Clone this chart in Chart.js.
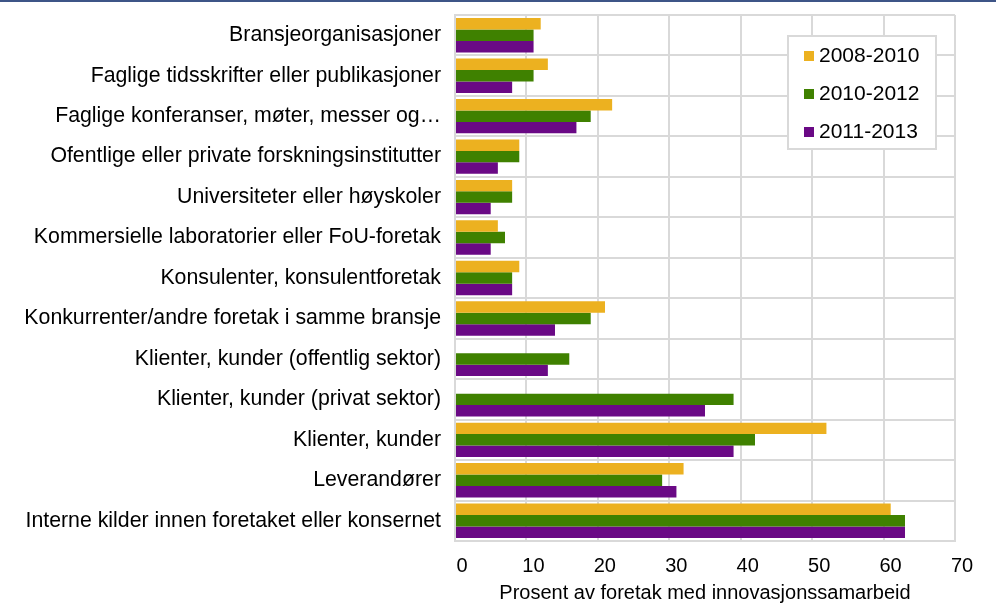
<!DOCTYPE html>
<html>
<head>
<meta charset="utf-8">
<script src="https://cdn.jsdelivr.net/npm/chart.js@4"></script>
<style>
  body { margin: 0; background: #fff; }
  #wrap { width: 996px; height: 606px; }
</style>
</head>
<body>
<div id="wrap"><canvas id="chart" width="996" height="606"></canvas></div>
<script>
const categories = [
  'Bransjeorganisasjoner',
  'Faglige tidsskrifter eller publikasjoner',
  'Faglige konferanser, møter, messer og…',
  'Ofentlige eller private forskningsinstitutter',
  'Universiteter eller høyskoler',
  'Kommersielle laboratorier eller FoU-foretak',
  'Konsulenter, konsulentforetak',
  'Konkurrenter/andre foretak i samme bransje',
  'Klienter, kunder (offentlig sektor)',
  'Klienter, kunder (privat sektor)',
  'Klienter, kunder',
  'Leverandører',
  'Interne kilder innen foretaket eller konsernet'
];
const seriesNames = ['2008-2010', '2010-2012', '2011-2013'];
const values2008 = [12, 13, 22, 9, 8, 6, 9, 21, null, null, 52, 32, 61];
const values2010 = [11, 11, 19, 9, 8, 7, 8, 19, 16, 39, 42, 29, 63];
const values2011 = [11, 8, 17, 6, 5, 5, 8, 14, 13, 35, 39, 31, 63];
const xTicks = [0, 10, 20, 30, 40, 50, 60, 70];

const colors = ['#ecb120', '#3f8100', '#6a0985'];
const font = 'Liberation Sans, Arial, sans-serif';

// thin dark line along the top edge
const topLine = {
  id: 'topLine',
  beforeDraw(chart) {
    const ctx = chart.ctx;
    ctx.save();
    ctx.fillStyle = '#3e5587';
    ctx.fillRect(0, 0, chart.width, 2);
    ctx.restore();
  }
};

// boxed legend inside the plot area
const boxLegend = {
  id: 'boxLegend',
  afterDraw(chart) {
    const ctx = chart.ctx;
    ctx.save();
    ctx.fillStyle = '#fff';
    ctx.fillRect(788, 36, 148, 113);
    ctx.strokeStyle = '#d9d9d9';
    ctx.lineWidth = 2;
    ctx.strokeRect(788, 36, 148, 113);
    ctx.font = '21px ' + font;
    ctx.textBaseline = 'middle';
    chart.data.datasets.forEach((ds, i) => {
      const y = 56 + i * 38;
      ctx.fillStyle = ds.backgroundColor;
      ctx.fillRect(804, y - 5, 10, 10);
      ctx.fillStyle = '#000';
      ctx.fillText(ds.label, 819, y);
    });
    ctx.restore();
  }
};

new Chart(document.getElementById('chart'), {
  type: 'bar',
  data: {
    labels: categories,
    datasets: [values2008, values2010, values2011].map((v, i) => ({
      label: seriesNames[i],
      data: v,
      backgroundColor: colors[i],
      borderColor: colors[i],
      borderWidth: 0,
      barPercentage: 1,
      categoryPercentage: 0.85
    }))
  },
  options: {
    indexAxis: 'y',
    responsive: false,
    animation: false,
    layout: { padding: { top: 15, right: 41, bottom: 0, left: 0 } },
    plugins: {
      legend: { display: false },
      tooltip: { enabled: false }
    },
    scales: {
      x: {
        min: 0,
        max: 70,
        afterBuildTicks(scale) {
          scale.ticks = xTicks.map(v => ({ value: v }));
        },
        afterFit(scale) { scale.height = 65; },
        grid: { color: '#d9d9d9', lineWidth: 2, drawTicks: false },
        border: { color: '#d9d9d9', width: 2 },
        ticks: {
          color: '#000',
          padding: 13,
          labelOffset: 7,
          maxRotation: 0,
          font: { family: font, size: 20 }
        },
        title: {
          display: true,
          text: 'Prosent av foretak med innovasjonssamarbeid',
          color: '#000',
          padding: { top: 3, bottom: 1 },
          font: { family: font, size: 20 }
        }
      },
      y: {
        afterFit(scale) {
          scale.width = 455;
          scale.paddingTop = 0;
          scale.paddingBottom = 0;
        },
        grid: { color: '#d9d9d9', lineWidth: 2, drawTicks: false, offset: true },
        border: { color: '#d9d9d9', width: 2 },
        ticks: {
          color: '#000',
          padding: 14,
          autoSkip: false,
          font: { family: font, size: 21.3 }
        }
      }
    }
  },
  plugins: [topLine, boxLegend]
});
</script>
</body>
</html>
